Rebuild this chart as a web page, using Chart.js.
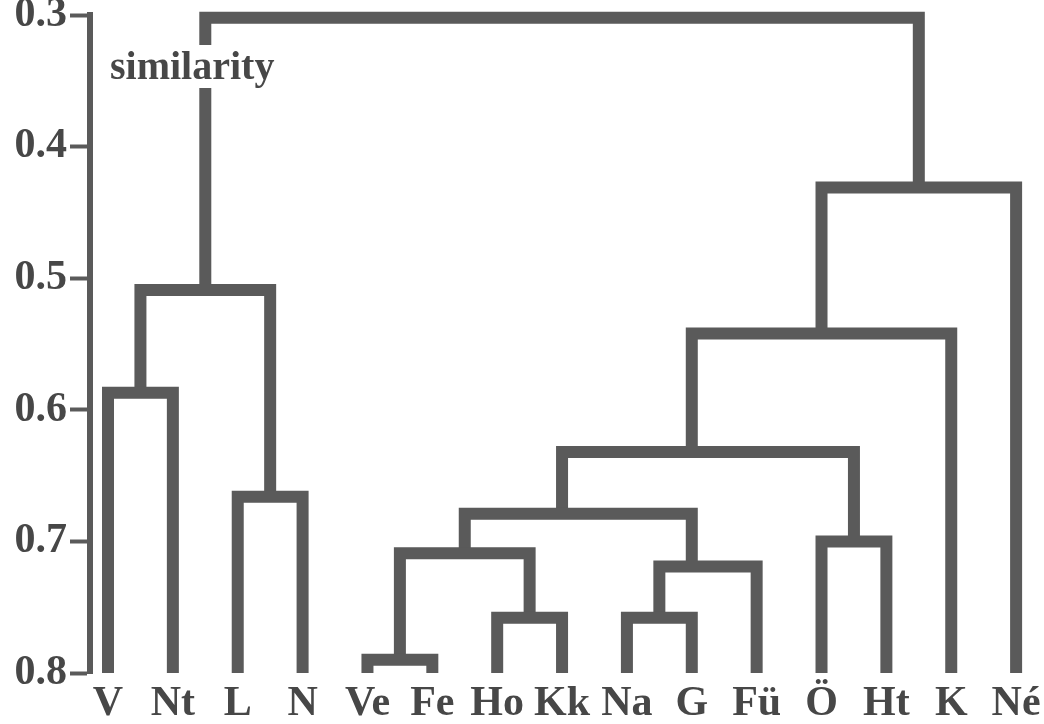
<!DOCTYPE html>
<html>
<head>
<meta charset="utf-8">
<title>similarity</title>
<script src="https://cdn.jsdelivr.net/npm/chart.js@4.4.0/dist/chart.umd.min.js"></script>
<style>
	html, body { margin:0; padding:0; background:#ffffff; }
	#dendroWrap { width:1044px; height:724px; position:relative; }
</style>
</head>
<body>
<div id="dendroWrap"><canvas id="dendroCanvas"></canvas></div>
<script>
var leafLabels = ['V','Nt','L','N','Ve','Fe','Ho','Kk','Na','G','Fü','Ö','Ht','K','Né'];
var leafLevel = 0.8;
var yTicks = [0.3, 0.4, 0.5, 0.6, 0.7, 0.8];

// merges in order; a child is a leaf name or 'm' + index of an earlier merge
var mergeLeft   = ['V',  'L',  'm0', 'Ve', 'Ho', 'm3', 'Na', 'm6', 'm5', 'Ö',  'm8', 'm10', 'm11', 'm2'];
var mergeRight  = ['Nt', 'N',  'm1', 'Fe', 'Kk', 'm4', 'G',  'Fü', 'm7', 'Ht', 'm9', 'K',   'Né',  'm12'];
var mergeHeight = [0.587, 0.666, 0.509, 0.790, 0.758, 0.709, 0.758, 0.719, 0.679, 0.700, 0.632, 0.542, 0.431, 0.302];
// where the stem goes up from each merge, in leaf positions
var mergeStem   = [0.5, 2.5, 1.5, 4.5, 6.5, 5.5, 8.5, 9.0, 7.0, 11.5, 9.0, 11.0, 12.5, 7.0];

var dendro = {};

dendro.lineColor = '#5a5a5a';
dendro.textColor = '#474747';
dendro.fontFamily = '"Liberation Serif", "DejaVu Serif", serif';

dendro.childPoint = function(name){
	if( name.charAt(0) == 'm' )
	{
		var k = parseInt(name.substr(1), 10);
		return {x: mergeStem[k], y: mergeHeight[k]};
	}
	return {x: leafLabels.indexOf(name), y: leafLevel};
};

dendro.buildDatasets = function(){
	var sets = [];
	for( var i = 0; i < mergeHeight.length; i++ )
	{
		var a = dendro.childPoint(mergeLeft[i]);
		var b = dendro.childPoint(mergeRight[i]);
		var h = mergeHeight[i];
		sets.push({
			label: 'merge ' + i,
			data: [{x:a.x, y:a.y}, {x:a.x, y:h}, {x:b.x, y:h}, {x:b.x, y:b.y}],
			showLine: true,
			borderColor: dendro.lineColor,
			borderWidth: 12,
			borderJoinStyle: 'miter',
			borderCapStyle: 'butt',
			pointRadius: 0,
			tension: 0,
			clip: false
		});
	}
	return sets;
};

// the word on the left stem, with a white gap behind it
dendro.similarityLabel = {
	id: 'similarityLabel',
	afterDatasetsDraw: function(c){
		var ctx = c.ctx;
		ctx.save();
		ctx.font = 'bold 40px ' + dendro.fontFamily;
		var w = ctx.measureText('similarity').width;
		ctx.fillStyle = '#ffffff';
		ctx.fillRect(106, 45, w + 8, 43);
		ctx.fillStyle = dendro.textColor;
		ctx.textBaseline = 'alphabetic';
		ctx.textAlign = 'left';
		ctx.fillText('similarity', 110, 79);
		ctx.restore();
	}
};

dendro.init = function(){
	var ctx = document.getElementById('dendroCanvas');

	dendro.chart = new Chart(ctx, {
		type: 'scatter',
		data: { datasets: dendro.buildDatasets() },
		plugins: [dendro.similarityLabel],
		options: {
			responsive: true,
			maintainAspectRatio: false,
			animation: false,
			layout: { padding: {top: 15, right: 0, bottom: 0, left: 0} },
			plugins: {
				legend: { display: false },
				tooltip: { enabled: false }
			},
			scales: {
				x: {
					type: 'linear',
					min: -0.2775,
					max: 14.43,
					afterBuildTicks: function(scale){
						scale.ticks = leafLabels.map(function(l, i){ return {value: i}; });
					},
					afterFit: function(scale){
						scale.height = 51;
						scale.paddingLeft = 0;
						scale.paddingRight = 0;
					},
					grid: { display: false },
					border: { display: false },
					ticks: {
						autoSkip: false,
						maxRotation: 0,
						minRotation: 0,
						padding: 2,
						color: dendro.textColor,
						font: { family: dendro.fontFamily, size: 42, weight: 'bold', lineHeight: 1.0 },
						callback: function(value){
							return leafLabels[value];
						}
					}
				},
				y: {
					type: 'linear',
					reverse: true,
					min: 0.3,
					max: 0.8,
					afterBuildTicks: function(scale){
						scale.ticks = yTicks.map(function(v){ return {value: v}; });
					},
					afterFit: function(scale){
						scale.width = 90;
						scale.paddingTop = 0;
						scale.paddingBottom = 0;
					},
					grid: {
						drawOnChartArea: false,
						drawTicks: true,
						tickLength: 20,
						tickWidth: 4,
						tickColor: dendro.lineColor
					},
					border: { display: true, width: 6, color: dendro.lineColor },
					ticks: {
						padding: 3,
						color: dendro.textColor,
						font: { family: dendro.fontFamily, size: 42, weight: 'bold', lineHeight: 0.7 },
						callback: function(value){
							return Number(value).toFixed(1);
						}
					}
				}
			}
		}
	});
};

dendro.init();
</script>
</body>
</html>
